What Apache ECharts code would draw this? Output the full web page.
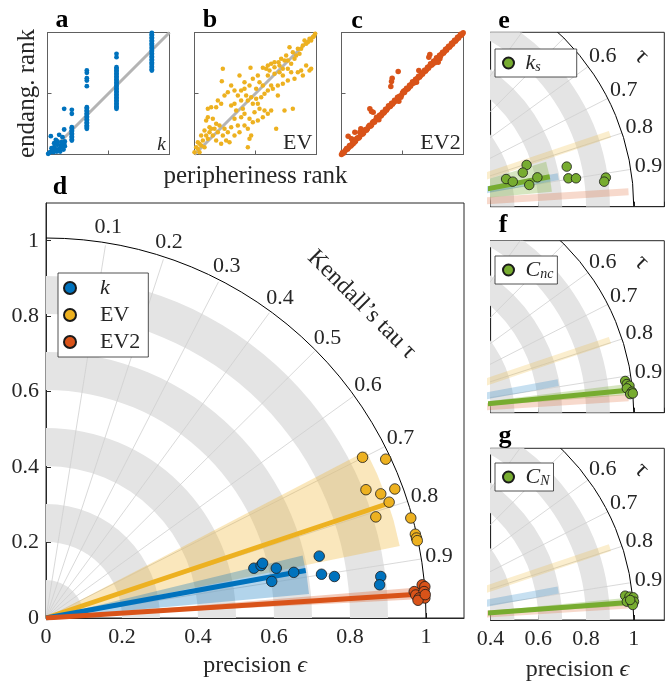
<!DOCTYPE html>
<html><head><meta charset="utf-8">
<script src="https://cdn.jsdelivr.net/npm/echarts@6/dist/echarts.min.js"></script>
<style>html,body{margin:0;padding:0;background:#fff}#c{width:672px;height:683px}</style>
</head><body><div id="c"></div><script>
const FONT = "'Liberation Serif','DejaVu Serif',serif";
const TXT = '#262626';
const COL = {k:'#0072BD', EV:'#EDB120', EV2:'#D95319', G:'#77AC30'};

// ---------- panels a-c : ranks (rank units, 0..366) ----------
const kColX = [313, 207, 118, 73];
const kColY = [
  [365,361,357,352,348,343,339,334,330,326,321,317,312,308,304,299,295,291,286,282,277,273,269,264,260,256,252],
  [302,292,262,257,253,248,244,239,235,230,226,221,217,212,208,203,199,194,190,185,181,176,172,167,163,158,154,149,145,141,137],
  [252,245,229,222,205,142,138,133,129,124,120,115,111,106,102,97,93,88,84,80,77],
  [134,122,82,78,73,69,64,60,55,51,46,42]
];
const kLoose = [[50,137],[10,55],[35,59],[50,75],[25,44],[45,52],[52,39],[50,32],[40,27],[30,29],[20,22],[35,17],[25,15],[15,12],[8,7],[2,2],[12,19],[42,37],[20,34],[30,39],[5,5],[18,7],[28,9],[45,22],[52,25],[38,9],[48,15]];
const rankEV = [[85,257],[82,220],[168,260],[205,260],[230,272],[252,277],[275,297],[285,322],[295,307],[310,317],[325,327],[340,337],[355,352],[362,362],[330,342],[345,347],[300,287],[315,302],[270,282],[255,267],[240,277],[220,267],[215,257],[290,247],[310,247],[325,237],[345,252],[320,252],[300,227],[280,222],[265,212],[250,207],[235,197],[220,192],[205,207],[195,217],[185,197],[175,227],[165,207],[150,197],[140,192],[130,177],[155,177],[170,172],[185,167],[200,172],[210,182],[190,152],[175,152],[160,162],[140,162],[120,152],[110,147],[125,132],[145,137],[70,162],[50,142],[65,142],[80,152],[40,112],[35,102],[55,107],[65,92],[75,87],[45,82],[30,72],[20,57],[10,37],[5,22],[0,7],[15,32],[25,42],[35,57],[50,77],[90,77],[110,82],[130,87],[100,67],[85,57],[95,42],[80,32],[65,42],[120,107],[140,112],[150,122],[165,107],[180,127],[195,137],[210,132],[220,122],[230,132],[205,112],[190,102],[175,97],[160,77],[150,87],[135,67],[165,47],[160,22],[170,57],[245,77],[270,132],[295,137],[135,237],[150,217],[190,237],[220,237],[240,242],[255,247],[265,257],[110,207],[100,187],[90,177],[40,137],[120,57],[105,37],[15,7],[30,22],[120,192],[230,207],[250,177],[335,332],[350,342],[358,355],[320,317],[305,297],[280,282],[290,272],[260,287],[240,262],[225,252],[265,237],[280,257],[335,267],[350,257],[10,17],[20,27],[40,47],[45,67],[60,77],[70,67],[55,57]];
const rankEV2 = [[265,300],[262,292],[170,249],[232,252],[152,229],[150,219],[148,204],[85,137],[90,129],[95,127],[58,77],[55,67],[20,55],[30,47],[290,277],[295,287],[225,217],[190,192],[120,117],[40,67],[35,32],
  [0,0],[6,4],[12,13],[18,16],[24,27],[30,28],[36,38],[42,40],[48,50],[54,52],[60,63],[66,64],[72,75],[78,77],[84,88],[90,88],[96,99],[102,103],[108,106],[114,118],[120,121],[126,124],[132,136],[138,138],[144,143],[150,154],[156,155],[162,160],[168,172],[174,175],[180,178],[186,190],[192,193],[198,196],[204,208],[210,211],[216,214],[222,226],[228,229],[234,232],[240,244],[246,247],[252,250],[258,262],[264,265],[270,268],[276,280],[282,283],[288,286],[294,298],[300,301],[306,304],[312,316],[318,319],[324,322],[330,334],[336,337],[342,340],[348,352],[354,355],[360,358],[365,365],
  [3,6],[9,8],[15,18],[21,20],[27,25],[33,35],[39,37],[45,47],[51,49],[57,60],[63,61],[69,71],[75,73],[81,84],[87,85],[93,96],[99,97],[105,112],[112,104],[117,115],[123,127],[129,127],[135,133],[141,146],[147,145],[153,151],[159,163],[165,162],[170,165],[178,172],[172,160],[183,185],[189,186],[195,199],[201,199],[207,205],[213,218],[219,217],[225,223],[231,235],[237,236],[243,241],[249,253],[255,254],[261,259],[267,272],[273,271],[280,275],[285,290],[291,289],[297,295],[303,307],[309,308],[315,313],[321,325],[327,326],[333,331],[339,343],[345,344],[351,349],[357,361],[363,362]];
const diag = [[0,0],[366,366]];

// ---------- Taylor-type panels ----------
const tauTicks = [0.1,0.2,0.3,0.4,0.5,0.6,0.7,0.8,0.9];
const tauTicksZoom = [0.6,0.7,0.8,0.9];
const bandInner = [0,0.2,0.4,0.6,0.8];
const bandOuter = [0.1,0.3,0.5,0.7,0.9];
// fits: mean tau, mean precision, tau range
const fitNames = ['k','EV','EV2'];
const fitTau   = [0.884, 0.793, 0.959];
const fitR     = [0.695, 0.950, 0.980];
const fitTauLo = [0.848, 0.694, 0.948];
const fitTauHi = [0.942, 0.872, 0.968];
const gNames = ['k_s','C_nc','C_N'];
const gTau   = [0.878, 0.939, 0.952];
const gR     = [0.660, 0.980, 0.980];
const gTauLo = [0.816, 0.922, 0.939];
const gTauHi = [0.939, 0.952, 0.961];
// points: [precision*cos, precision*sin] as read
const ptsK   = [[0.719,0.164],[0.547,0.132],[0.566,0.139],[0.570,0.145],[0.606,0.132],[0.652,0.121],[0.594,0.097],[0.725,0.116],[0.759,0.110],[0.881,0.110],[0.878,0.088]];
const ptsEV  = [[0.833,0.426],[0.894,0.421],[0.842,0.340],[0.881,0.329],[0.918,0.342],[0.903,0.307],[0.868,0.268],[0.960,0.265],[0.972,0.222],[0.975,0.212],[0.977,0.205]];
const ptsEV2 = [[0.990,0.088],[0.997,0.083],[0.969,0.070],[0.973,0.061],[0.995,0.070],[0.982,0.053],[0.997,0.053],[0.979,0.047],[0.998,0.062]];
const ptsKs  = [[0.551,0.175],[0.535,0.143],[0.465,0.116],[0.493,0.105],[0.562,0.091],[0.596,0.123],[0.719,0.168],[0.726,0.119],[0.758,0.119],[0.883,0.122],[0.876,0.105]];
const ptsCnc = [[0.964,0.133],[0.971,0.120],[0.982,0.113],[0.971,0.102],[0.992,0.088],[0.985,0.078],[0.996,0.081]];
const ptsCN  = [[0.964,0.102],[0.982,0.098],[0.998,0.095],[0.971,0.077],[0.992,0.073],[1.001,0.077],[0.996,0.063],[0.985,0.084]];

function ang(tau){ return (1-tau)*Math.PI/2; }
function P(tau, r){ const t = ang(tau); return [r*Math.cos(t), r*Math.sin(t)]; }

const rankK = [];
kColX.forEach((x,i)=>kColY[i].forEach(y=>rankK.push([x,y])));
kLoose.forEach(p=>rankK.push(p));

const grids = [
  {left:47.5, top:32.5, width:122, height:122},
  {left:194.5, top:32.5, width:122, height:122},
  {left:341.5, top:32.5, width:122, height:122},
  {left:46, top:203, width:418, height:417},
  {left:490.6, top:32.3, width:173.7, height:174.4},
  {left:490.6, top:240.7, width:173.7, height:172},
  {left:490.6, top:448.3, width:173.7, height:171.7}
].map(g=>Object.assign({show:true, borderColor:TXT, borderWidth:1, backgroundColor:'transparent', containLabel:false}, g));
grids[0].borderColor = grids[1].borderColor = grids[2].borderColor = '#606060';

const lab = (extra)=>Object.assign({fontFamily:FONT, fontSize:22, color:TXT}, extra||{});
const xAxes = [], yAxes = [];
for (let i=0;i<3;i++){
  xAxes.push({gridIndex:i, type:'value', min:0, max:366, interval:183, axisLabel:{show:false}, axisTick:{inside:true, length:4, lineStyle:{color:'#606060'}}, axisLine:{lineStyle:{color:'#606060'}}, splitLine:{show:false},
    name: i===1 ? 'peripheriness rank' : '', nameLocation:'middle', nameGap:9, nameTextStyle:lab({fontSize:25})});
  yAxes.push({gridIndex:i, type:'value', min:0, max:366, interval:183, axisLabel:{show:false}, axisTick:{inside:true, length:4, lineStyle:{color:'#606060'}}, axisLine:{lineStyle:{color:'#606060'}}, splitLine:{show:false},
    name: i===0 ? 'endang. rank' : '', nameLocation:'middle', nameGap:8, nameRotate:90, nameTextStyle:lab({fontSize:25})});
}
const epsRich = {i:{fontStyle:'italic', fontFamily:FONT, fontSize:24, color:TXT}};
xAxes.push({gridIndex:3, type:'value', min:0, max:1.1, interval:0.2, name:'precision {i|ϵ}', nameLocation:'middle', nameGap:36, nameTextStyle:lab({fontSize:24, rich:epsRich}),
  axisLabel:lab({margin:8, showMaxLabel:false}), axisTick:{inside:true, length:5, lineStyle:{color:TXT}}, axisLine:{lineStyle:{color:TXT}}, splitLine:{show:false}});
yAxes.push({gridIndex:3, type:'value', min:0, max:1.1, interval:0.2,
  axisLabel:lab({margin:7, showMaxLabel:false}), axisTick:{inside:true, length:5, lineStyle:{color:TXT}}, axisLine:{lineStyle:{color:TXT}}, splitLine:{show:false}});
const zMax = [0.731, 0.721, 0.72];
for (let j=0;j<3;j++){
  const gi = 4+j, last = j===2;
  xAxes.push({gridIndex:gi, type:'value', min:0.4, max:1.128, interval:0.2, name: last ? 'precision {i|ϵ}' : '', nameLocation:'middle', nameGap:38, nameTextStyle:lab({fontSize:24, rich:epsRich}),
    axisLabel:lab({show:last, margin:8, showMaxLabel:false}), axisTick:{inside:true, length:5, lineStyle:{color:TXT}}, axisLine:{lineStyle:{color:TXT}}, splitLine:{show:false}});
  yAxes.push({gridIndex:gi, type:'value', min:0, max:zMax[j], axisLabel:{show:false}, axisTick:{show:false}, axisLine:{lineStyle:{color:TXT}}, splitLine:{show:false}});
}

const series = [];
// panels a-c
const rankSets = [rankK, rankEV, rankEV2], rankCols = [COL.k, COL.EV, COL.EV2], rankSize = [4.8, 4.5, 5.5];
for (let i=0;i<3;i++){
  series.push({type:'line', xAxisIndex:i, yAxisIndex:i, data:diag, showSymbol:false, silent:true, lineStyle:{color:'#b4b4b4', width:3}, z:2});
  series.push({type:'scatter', xAxisIndex:i, yAxisIndex:i, data:rankSets[i], symbolSize:rankSize[i], itemStyle:{color:rankCols[i], opacity:1}, z:3, silent:true});
}

function bands(gi){
  return {type:'custom', xAxisIndex:gi, yAxisIndex:gi, clip:true, silent:true, z:1,
    data: bandInner.map((r0,i)=>[r0, bandOuter[i]]),
    renderItem:(p, api)=>{
      const c = api.coord([0,0]);
      const r0 = api.size([api.value(0),0])[0], r1 = api.size([api.value(1),0])[0];
      return {type:'sector', shape:{cx:c[0], cy:c[1], r0:r0, r:r1, startAngle:-Math.PI/2, endAngle:0, clockwise:true}, style:{fill:'#e4e4e4'}};
    }};
}
function radials(gi){
  return {type:'custom', xAxisIndex:gi, yAxisIndex:gi, clip:true, silent:true, z:2, data: tauTicks,
    renderItem:(p, api)=>{
      const c0 = api.coord([0,0]), c1 = api.coord(P(api.value(0),1));
      return {type:'line', shape:{x1:c0[0], y1:c0[1], x2:c1[0], y2:c1[1]}, style:{stroke:'#cfcfcf', lineWidth:0.8}};
    }};
}
function outerArc(gi){
  return {type:'custom', xAxisIndex:gi, yAxisIndex:gi, clip:true, silent:true, z:2, data:[1],
    renderItem:(p, api)=>{
      const c = api.coord([0,0]); const r = api.size([api.value(0),0])[0];
      return {type:'arc', shape:{cx:c[0], cy:c[1], r:r, startAngle:-Math.PI/2, endAngle:0, clockwise:true}, style:{stroke:'#000', fill:'none', lineWidth:1}};
    }};
}
function wedge(gi, lo, hi, r, color, op){
  return {type:'custom', xAxisIndex:gi, yAxisIndex:gi, clip:true, silent:true, z:3, data:[[lo, hi, r]],
    renderItem:(p, api)=>{
      const c = api.coord([0,0]); const rp = api.size([api.value(2),0])[0];
      return {type:'sector', shape:{cx:c[0], cy:c[1], r0:0, r:rp, startAngle:-ang(api.value(0)), endAngle:-ang(api.value(1)), clockwise:true}, style:{fill:color, opacity:op}};
    }};
}
function fitLine(gi, tau, r, color, width, op){
  return {type:'line', xAxisIndex:gi, yAxisIndex:gi, data:[[0,0], P(tau,r)], showSymbol:false, silent:true, clip:true, lineStyle:{color:color, width:width, opacity:op}, z:4};
}
function tauLabels(gi, ticks){
  return {type:'custom', xAxisIndex:gi, yAxisIndex:gi, clip:true, silent:true, z:6, data:ticks,
    renderItem:(p, api)=>{
      const tau = api.value(0), t = ang(tau), c = api.coord(P(tau,1)), off = 18;
      return {type:'text', x:c[0]+off*Math.cos(t), y:c[1]-off*Math.sin(t), style:{text:tau.toFixed(1), fill:TXT, font:'22px '+FONT, align:'center', verticalAlign:'middle', textAlign:'center', textVerticalAlign:'middle'}};
    }};
}
function rotText(gi, pos, text, size){
  return {type:'custom', xAxisIndex:gi, yAxisIndex:gi, clip:false, silent:true, z:6, data:[pos],
    renderItem:(p, api)=>{
      const c = api.coord([api.value(0), api.value(1)]);
      return {type:'text', x:c[0], y:c[1], rotation:-Math.PI/4, style:{text:text, fill:TXT, font:size+'px '+FONT, align:'center', verticalAlign:'middle', textAlign:'center', textVerticalAlign:'middle'}};
    }};
}
function pts(gi, name, data, color, size){
  return {type:'scatter', name:name, xAxisIndex:gi, yAxisIndex:gi, data:data, symbol:'circle', symbolSize:size, itemStyle:{color:color, borderColor:'#1a1a1a', borderWidth:0.8, opacity:1}, z:8, silent:true};
}

// panel d
series.push(bands(3), radials(3), outerArc(3));
const fitCols = [COL.k, COL.EV, COL.EV2];
[1,0,2].forEach(i=>series.push(wedge(3, fitTauLo[i], fitTauHi[i], fitR[i], fitCols[i], 0.3)));
[1,0,2].forEach(i=>series.push(fitLine(3, fitTau[i], fitR[i], fitCols[i], 5, 1)));
series.push(tauLabels(3, tauTicks));
series.push(rotText(3, P(0.5,1.175), "Kendall\u2019s tau \u03C4", 24));
series.push(pts(3, 'k', ptsK, COL.k, 10.5), pts(3, 'EV', ptsEV, COL.EV, 10.5), pts(3, 'EV2', ptsEV2, COL.EV2, 10.5));

// panels e-g
const gPts = [ptsKs, ptsCnc, ptsCN];
for (let j=0;j<3;j++){
  const gi = 4+j;
  series.push(bands(gi), radials(gi), outerArc(gi));
  [1,0,2].forEach(i=>series.push(fitLine(gi, fitTau[i], fitR[i], fitCols[i], 7, 0.22)));
  series.push(wedge(gi, gTauLo[j], gTauHi[j], gR[j], COL.G, 0.3));
  series.push(fitLine(gi, gTau[j], gR[j], COL.G, 5, 1));
  series.push(tauLabels(gi, tauTicksZoom));
  series.push(rotText(gi, P(0.651,1.21), "\u03C4", 24));
  series.push(pts(gi, gNames[j], gPts[j], COL.G, 9.5));
}

const legBase = {orient:'vertical', icon:'circle', backgroundColor:'#fff', borderColor:TXT, borderWidth:0.8, selectedMode:false};
const richL = {
  i:{fontStyle:'italic', fontFamily:FONT, fontSize:22, color:TXT},
  s:{fontStyle:'italic', fontFamily:FONT, fontSize:14, color:TXT, verticalAlign:'bottom'}
};
const legends = [
  Object.assign({}, legBase, {data:['k','EV','EV2'], left:58, top:273, padding:[4,8,4,5], itemWidth:50, itemHeight:12, itemGap:5,
    textStyle:lab({rich:richL}), formatter:n=> n==='k' ? '{i|k}' : n})
];
const gLabel = {'k_s':'{i|k}{s|s}', 'C_nc':'{i|C}{s|nc}', 'C_N':'{i|C}{s|N}'};
const gTop = [49, 256, 463];
for (let j=0;j<3;j++){
  legends.push(Object.assign({}, legBase, {data:[gNames[j]], left:495, top:gTop[j], padding:[3, j===0?36:4, 3, 7], itemWidth:24, itemHeight:11,
    textStyle:lab({fontSize:20, rich:richL}), formatter:n=>gLabel[n]}));
}

const letters = [['a',62,20],['b',210,20],['c',357,21],['d',60,187],['e',504,21],['f',503,225],['g',505,436]];
const graphic = letters.map(l=>({type:'text', x:l[1], y:l[2], style:{text:l[0], fill:'#000', font:'bold 26px '+FONT, textAlign:'center', textVerticalAlign:'middle', align:'center', verticalAlign:'middle'}}));
graphic.push({type:'text', x:161.5, y:145, style:{text:'k', fill:TXT, font:'italic 19px '+FONT, textAlign:'center', textVerticalAlign:'middle', align:'center', verticalAlign:'middle'}});
graphic.push({type:'text', x:297.7, y:143, style:{text:'EV', fill:TXT, font:'22px '+FONT, textAlign:'center', textVerticalAlign:'middle', align:'center', verticalAlign:'middle'}});
graphic.push({type:'text', x:440.5, y:143, style:{text:'EV2', fill:TXT, font:'22px '+FONT, textAlign:'center', textVerticalAlign:'middle', align:'center', verticalAlign:'middle'}});

const chart = echarts.init(document.getElementById('c'), null, {renderer:'canvas'});
chart.setOption({animation:false, backgroundColor:'#fff', grid:grids, xAxis:xAxes, yAxis:yAxes, series:series, legend:legends, graphic:graphic});
</script></body></html>
